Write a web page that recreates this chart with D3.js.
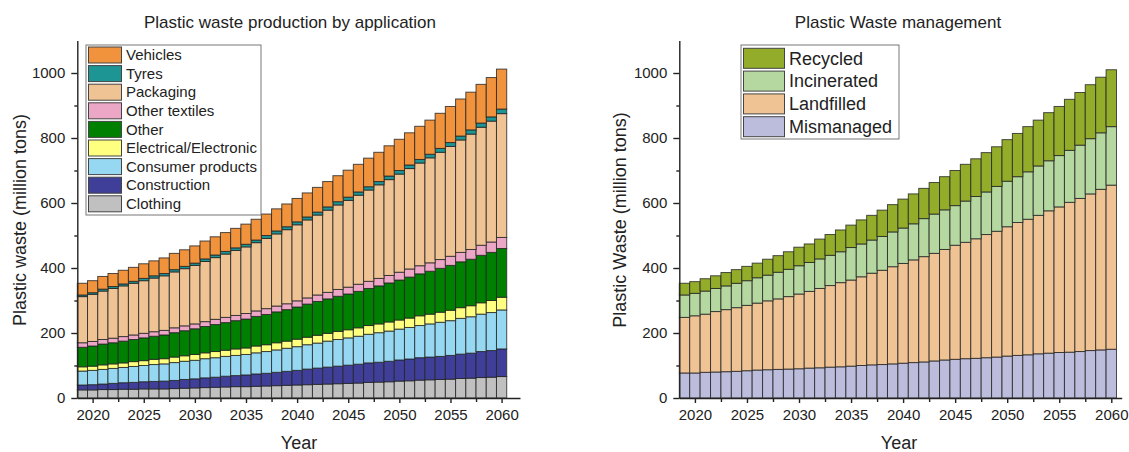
<!DOCTYPE html>
<html>
<head>
<meta charset="utf-8">
<script src="https://cdn.jsdelivr.net/npm/d3@7"></script>
<style>
  body { margin: 0; background: #fff; }
  text { font-family: Arial, "Liberation Sans", sans-serif; fill: #222; }
</style>
</head>
<body>
<svg id="chart" width="1129" height="452"></svg>
<script>
// ---- data ----
const years = [2019, 2020, 2021, 2022, 2023, 2024, 2025, 2026, 2027, 2028,
  2029, 2030, 2031, 2032, 2033, 2034, 2035, 2036, 2037, 2038,
  2039, 2040, 2041, 2042, 2043, 2044, 2045, 2046, 2047, 2048,
  2049, 2050, 2051, 2052, 2053, 2054, 2055, 2056, 2057, 2058,
  2059, 2060];

// left: plastic waste by application (million tons)
const clothing = [25, 25, 26, 26, 27, 27, 28, 28, 28, 29, 30, 31, 32, 33, 34, 35, 35, 36, 37, 38,
  39, 40, 41, 42, 43, 44, 45, 46, 48, 49, 50, 52, 53, 55, 56, 57, 58, 60, 61, 63, 64, 66];
const construction = [15, 16, 17, 19, 20, 21, 22, 23, 24, 25, 27, 28, 30, 31, 33, 34, 36, 38, 39, 41,
  43, 45, 48, 50, 52, 54, 56, 58, 60, 61, 63, 65, 67, 69, 70, 71, 73, 75, 77, 80, 82, 85];
const consumerProducts = [43, 44, 45, 46, 47, 49, 50, 52, 53, 55, 56, 57, 59, 60, 61, 62, 63, 65, 67, 69,
  71, 73, 75, 77, 80, 82, 84, 86, 88, 91, 93, 95, 97, 99, 102, 105, 107, 110, 112, 115, 117, 120];
const electrical = [13, 13, 14, 14, 14, 15, 15, 16, 16, 17, 17, 18, 18, 19, 19, 20, 20, 21, 21, 22,
  22, 23, 23, 24, 24, 25, 25, 26, 27, 27, 28, 28, 29, 30, 30, 31, 32, 33, 34, 35, 37, 39];
const other = [60, 62, 64, 65, 67, 68, 70, 71, 73, 75, 77, 79, 81, 83, 85, 87, 89, 91, 93, 95,
  97, 99, 102, 104, 106, 108, 110, 112, 114, 117, 120, 123, 126, 129, 132, 135, 138, 141, 143, 146, 148, 150];
const otherTextiles = [14, 14, 14, 14, 14, 14, 14, 14, 14, 15, 15, 15, 15, 16, 16, 16, 17, 17, 18, 18,
  18, 19, 19, 20, 20, 21, 21, 22, 22, 23, 23, 24, 25, 25, 26, 27, 28, 29, 30, 31, 32, 34];
const packaging = [142, 145, 149, 153, 156, 159, 162, 165, 168, 172, 176, 180, 185, 190, 195, 200, 205, 210, 216, 222,
  228, 234, 240, 246, 253, 260, 267, 274, 281, 288, 295, 302, 309, 316, 323, 330, 338, 346, 355, 363, 372, 381];
const tyres = [5, 5, 6, 6, 6, 6, 7, 7, 7, 7, 7, 7, 8, 8, 8, 8, 8, 8, 9, 9,
  9, 9, 9, 9, 10, 10, 10, 10, 10, 10, 11, 11, 11, 11, 11, 12, 12, 12, 13, 13, 13, 14];
const vehicles = [36, 37, 39, 40, 42, 43, 45, 46, 48, 50, 51, 53, 55, 56, 58, 60, 62, 64, 66, 68,
  70, 72, 74, 76, 78, 80, 83, 85, 88, 90, 93, 96, 99, 102, 105, 108, 111, 114, 116, 119, 121, 123];

// right: waste management (million tons)
const mismanaged = [77, 77, 79, 80, 81, 82, 84, 86, 87, 88, 89, 90, 92, 93, 95, 96, 98, 100, 102, 103,
  105, 107, 109, 111, 114, 117, 119, 121, 122, 124, 126, 129, 131, 133, 136, 138, 140, 141, 143, 146, 148, 150];
const landfilled = [171, 176, 179, 186, 191, 196, 201, 206, 212, 217, 223, 230, 236, 244, 251, 259, 265, 273, 282, 290,
  299, 307, 316, 324, 331, 340, 351, 358, 368, 379, 387, 398, 409, 417, 426, 438, 448, 461, 471, 482, 494, 505];
const incinerated = [69, 69, 71, 71, 73, 75, 76, 78, 79, 82, 84, 87, 89, 91, 93, 95, 100, 101, 102, 104,
  107, 109, 111, 117, 121, 122, 122, 127, 130, 131, 138, 140, 141, 146, 152, 154, 158, 160, 164, 170, 174, 180];
const recycled = [36, 36, 38, 39, 41, 42, 44, 45, 49, 51, 54, 57, 57, 61, 64, 67, 69, 74, 76, 81,
  84, 89, 92, 93, 97, 102, 108, 113, 116, 121, 122, 128, 133, 139, 141, 148, 151, 157, 162, 166, 171, 175];

const applicationKeys = ["Clothing", "Construction", "Consumer products", "Electrical/Electronic",
  "Other", "Other textiles", "Packaging", "Tyres", "Vehicles"];
const applicationColors = ["#c0c0c0", "#3f3f9a", "#96d7f1", "#ffff80",
  "#008000", "#eca6c6", "#f0c395", "#1d9595", "#f1933c"];
const applicationSeries = [clothing, construction, consumerProducts, electrical,
  other, otherTextiles, packaging, tyres, vehicles];

const managementKeys = ["Mismanaged", "Landfilled", "Incinerated", "Recycled"];
const managementColors = ["#bcbddd", "#f0c395", "#b4d8a0", "#93ad2a"];
const managementSeries = [mismanaged, landfilled, incinerated, recycled];

const yTicks = [0, 200, 400, 600, 800, 1000];
const yMinorTicks = [100, 300, 500, 700, 900];
const xTicks = [2020, 2025, 2030, 2035, 2040, 2045, 2050, 2055, 2060];
const xMinorTicks = [2022.5, 2027.5, 2032.5, 2037.5, 2042.5, 2047.5, 2052.5, 2057.5];

class StackedBarChart {
  constructor(svg, opts) {
    this.svg = svg;
    this.opts = opts;
  }

  draw(keys, colors, series) {
    const o = this.opts;
    const g = this.svg.append("g");

    const table = years.map((yr, i) => {
      const row = { year: yr };
      keys.forEach((k, j) => row[k] = series[j][i]);
      return row;
    });
    const stacked = d3.stack().keys(keys)(table);

    const x = d3.scaleLinear().domain(o.xDomain).range([o.left, o.right]);
    const y = d3.scaleLinear().domain([0, 1100]).range([o.bottom, o.top]);
    const color = d3.scaleOrdinal().domain(keys).range(colors);
    const bw = x(2020) - x(2019);

    g.selectAll(".layer")
      .data(stacked)
      .join("g")
      .attr("class", "layer")
      .attr("fill", d => color(d.key))
      .selectAll("rect")
      .data(d => d)
      .join("rect")
      .attr("x", d => x(d.data.year) - bw / 2)
      .attr("width", bw)
      .attr("y", d => y(d[1]))
      .attr("height", d => y(d[0]) - y(d[1]))
      .attr("stroke", "rgba(35,35,35,0.8)")
      .attr("stroke-width", 1);

    // axes
    g.append("g").attr("transform", `translate(0,${o.bottom})`)
      .call(d3.axisBottom(x).tickValues(xTicks).tickFormat(d3.format("d"))
        .tickSize(5).tickPadding(6).tickSizeOuter(0));
    g.append("g").attr("transform", `translate(0,${o.bottom})`)
      .call(d3.axisBottom(x).tickValues(xMinorTicks).tickFormat("").tickSize(4).tickSizeOuter(0))
      .select(".domain").remove();
    g.append("g").attr("transform", `translate(${o.left},0)`)
      .call(d3.axisLeft(y).tickValues(yTicks).tickFormat(d3.format("d"))
        .tickSize(6).tickPadding(6).tickSizeOuter(0));
    g.append("g").attr("transform", `translate(${o.left},0)`)
      .call(d3.axisLeft(y).tickValues(yMinorTicks).tickFormat("").tickSize(3).tickSizeOuter(0))
      .select(".domain").remove();

    g.selectAll(".domain, .tick line").attr("stroke", "#222").attr("stroke-width", 1.4);
    g.selectAll(".tick text").attr("font-size", 15).attr("fill", "#222")
      .style("font-family", "Arial, 'Liberation Sans', sans-serif");

    // titles
    g.append("text").attr("x", o.titleX).attr("y", 28).attr("text-anchor", "middle")
      .attr("font-size", 17).text(o.title);
    g.append("text").attr("x", o.yearX).attr("y", 449).attr("text-anchor", "middle")
      .attr("font-size", 18).text("Year");
    g.append("text").attr("transform", `translate(${o.ylabelX},220) rotate(-90)`)
      .attr("text-anchor", "middle").attr("font-size", 18).text(o.ylabel);

    // legend
    const L = o.legend;
    const lg = g.append("g");
    lg.append("rect").attr("x", L.x).attr("y", L.y).attr("width", L.w).attr("height", L.h)
      .attr("fill", "#fff").attr("stroke", "#777").attr("stroke-width", 1);
    const items = keys.map((k, i) => ({ key: k, color: colors[i] })).reverse();
    const row = lg.selectAll(".item").data(items).join("g")
      .attr("transform", (d, i) => `translate(0,${L.first + i * L.step})`);
    row.append("rect").attr("x", L.x + 2.5).attr("y", -L.sh / 2).attr("width", L.sw).attr("height", L.sh)
      .attr("fill", d => d.color).attr("stroke", "#444").attr("stroke-width", 1);
    row.append("text").attr("x", L.x + L.sw + 7).attr("dy", "0.35em").attr("font-size", L.fs)
      .text(d => d.key);
  }
}

const svg = d3.select("#chart");

new StackedBarChart(svg, {
  xDomain: [2018.5, 2061.8], left: 77.3, right: 520, top: 40.5, bottom: 398,
  title: "Plastic waste production by application", titleX: 290,
  yearX: 299, ylabelX: 26, ylabel: "Plastic waste (million tons)",
  legend: { x: 86, y: 45, w: 175, h: 170, first: 55, step: 18.6, sw: 33, sh: 16, fs: 15 }
}).draw(applicationKeys, applicationColors, applicationSeries);

new StackedBarChart(svg, {
  xDomain: [2018.5, 2061.0], left: 679.3, right: 1121.7, top: 40.5, bottom: 398,
  title: "Plastic Waste management", titleX: 898,
  yearX: 899, ylabelX: 626, ylabel: "Plastic Waste (million tons)",
  legend: { x: 741, y: 45, w: 158, h: 94, first: 58.3, step: 22.8, sw: 41, sh: 20, fs: 18 }
}).draw(managementKeys, managementColors, managementSeries);
</script>
</body>
</html>
